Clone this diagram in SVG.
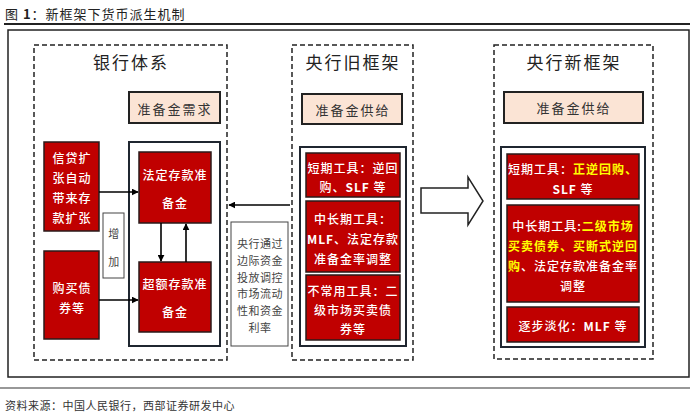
<svg xmlns="http://www.w3.org/2000/svg" width="700" height="414" viewBox="0 0 700 414">
<style>
text{font-family:"Noto Sans CJK SC","Liberation Sans",sans-serif;}
.t{font-size:17px;fill:#222;text-anchor:middle;dominant-baseline:central;letter-spacing:2px}
.peach{fill:#FBE4D5;stroke:#222;stroke-width:2}
.pt{font-size:13px;fill:#333;text-anchor:middle;dominant-baseline:central;letter-spacing:2px}
.red{fill:#C00000;stroke:#2a1a1a;stroke-width:1.5}
.rt{font-size:12px;fill:#fff;text-anchor:middle;dominant-baseline:central;letter-spacing:1px;font-weight:500}
.b{font-weight:bold}
.y{fill:#FFFF00;font-weight:bold}
.dash{fill:none;stroke:#222;stroke-width:1.5;stroke-dasharray:5 3}
.inner{fill:#fff;stroke:#1f2630;stroke-width:2}
.wb{fill:#fff;stroke:#444;stroke-width:1}
.gt{font-size:11px;fill:#444;text-anchor:middle;dominant-baseline:central;letter-spacing:0.5px}
.arr{stroke:#000;stroke-width:1.6;fill:none;marker-end:url(#ah)}
</style>
<defs>
<marker id="ah" viewBox="0 0 10 10" refX="9" refY="5" markerWidth="7" markerHeight="7" markerUnits="userSpaceOnUse" orient="auto">
<path d="M0,0 L10,5 L0,10 z" fill="#000"/>
</marker>
</defs>
<rect width="700" height="414" fill="#fff"/>
<text x="5" y="13" style="font-size:13px;fill:#222;dominant-baseline:central;letter-spacing:1px">图 <tspan font-weight="bold">1</tspan>：新框架下货币派生机制</text>
<line x1="4" y1="24" x2="690" y2="24" stroke="#222" stroke-width="2"/>
<rect x="8" y="30" width="681" height="347" fill="none" stroke="#222" stroke-width="1.5"/>
<line x1="0" y1="388" x2="690" y2="388" stroke="#333" stroke-width="1.2"/>
<text x="5" y="405" style="font-size:11px;fill:#333;dominant-baseline:central;letter-spacing:0.5px">资料来源：中国人民银行，西部证券研发中心</text>

<g id="bank">
<rect class="dash" x="34" y="45" width="193" height="315"/>
<text class="t" x="131" y="61">银行体系</text>
<rect class="peach" x="129" y="92" width="91" height="31"/>
<text class="pt" x="175" y="108">准备金需求</text>
<rect class="inner" x="129" y="142" width="91" height="204"/>
</g>
<g id="credit">
<rect class="red" x="44" y="142" width="55" height="89"/>
<text class="rt" x="72" y="157">信贷扩</text>
<text class="rt" x="72" y="177">张自动</text>
<text class="rt" x="72" y="197">带来存</text>
<text class="rt" x="72" y="217">款扩张</text>
</g>
<g id="bonds">
<rect class="red" x="44" y="251" width="55" height="88"/>
<text class="rt" x="72" y="287">购买债</text>
<text class="rt" x="72" y="307">券等</text>
</g>
<g id="increase">
<rect class="wb" x="103" y="213" width="21" height="65"/>
<text class="gt" x="114" y="233">增</text>
<text class="gt" x="114" y="261">加</text>
</g>
<g id="statutory">
<rect class="red" x="139" y="152" width="72" height="71"/>
<text class="rt" x="175" y="174">法定存款准</text>
<text class="rt" x="175" y="202">备金</text>
</g>
<g id="excess">
<rect class="red" x="139" y="262" width="72" height="70"/>
<text class="rt" x="175" y="283">超额存款准</text>
<text class="rt" x="175" y="311">备金</text>
</g>
<g id="note">
<rect class="wb" x="231" y="222" width="57" height="124"/>
<text class="gt" x="260" y="243">央行通过</text>
<text class="gt" x="260" y="260">边际资金</text>
<text class="gt" x="260" y="277">投放调控</text>
<text class="gt" x="260" y="293">市场流动</text>
<text class="gt" x="260" y="310">性和资金</text>
<text class="gt" x="260" y="327">利率</text>
</g>
<g id="old">
<rect class="dash" x="292" y="45" width="121" height="315"/>
<text class="t" x="353" y="61">央行旧框架</text>
<rect class="peach" x="302" y="94" width="100" height="30"/>
<text class="pt" x="353" y="109">准备金供给</text>
<rect class="inner" x="300" y="147" width="106" height="199"/>
<rect class="red" x="306" y="153" width="94" height="44"/>
<text class="rt" x="353" y="167">短期工具：逆回</text>
<text class="rt" x="353" y="186">购、<tspan class="b">SLF</tspan> 等</text>
<rect class="red" x="306" y="201" width="94" height="71"/>
<text class="rt" x="353" y="218">中长期工具：</text>
<text class="rt" x="353" y="238"><tspan class="b">MLF</tspan>、法定存款</text>
<text class="rt" x="353" y="258">准备金率调整</text>
<rect class="red" x="306" y="275" width="94" height="65"/>
<text class="rt" x="353" y="290">不常用工具：二</text>
<text class="rt" x="353" y="309">级市场买卖债</text>
<text class="rt" x="353" y="328">券等</text>
</g>
<g id="new">
<rect class="dash" x="494" y="45" width="159" height="314"/>
<text class="t" x="574" y="61">央行新框架</text>
<rect class="peach" x="504" y="92" width="139" height="31"/>
<text class="pt" x="574" y="107">准备金供给</text>
<rect class="inner" x="501" y="147" width="144" height="200"/>
<rect class="red" x="507" y="154" width="132" height="45"/>
<text class="rt" x="573" y="168">短期工具：<tspan class="y">正逆回购、</tspan></text>
<text class="rt" x="573" y="188"><tspan class="b">SLF</tspan> 等</text>
<rect class="red" x="507" y="205" width="132" height="97"/>
<text class="rt" x="573" y="225">中长期工具:<tspan class="y">二级市场</tspan></text>
<text class="rt y" x="573" y="245">买卖债券、买断式逆回</text>
<text class="rt" x="573" y="265"><tspan class="y">购</tspan>、法定存款准备金率</text>
<text class="rt" x="573" y="285">调整</text>
<rect class="red" x="507" y="307" width="132" height="35"/>
<text class="rt" x="573" y="325">逐步淡化：<tspan class="b">MLF</tspan> 等</text>
</g>
<g id="connectors">
<line class="arr" x1="99" y1="192" x2="138" y2="192"/>
<line class="arr" x1="99" y1="300" x2="138" y2="300"/>
<line class="arr" x1="161" y1="223" x2="161" y2="261"/>
<line class="arr" x1="186" y1="262" x2="186" y2="224"/>
<line class="arr" x1="290" y1="205" x2="229" y2="205"/>
<path d="M421,188 L468,188 L468,177 L483,201 L468,225 L468,213 L421,213 Z" fill="#fff" stroke="#222" stroke-width="1.5"/>
</g>
</svg>
